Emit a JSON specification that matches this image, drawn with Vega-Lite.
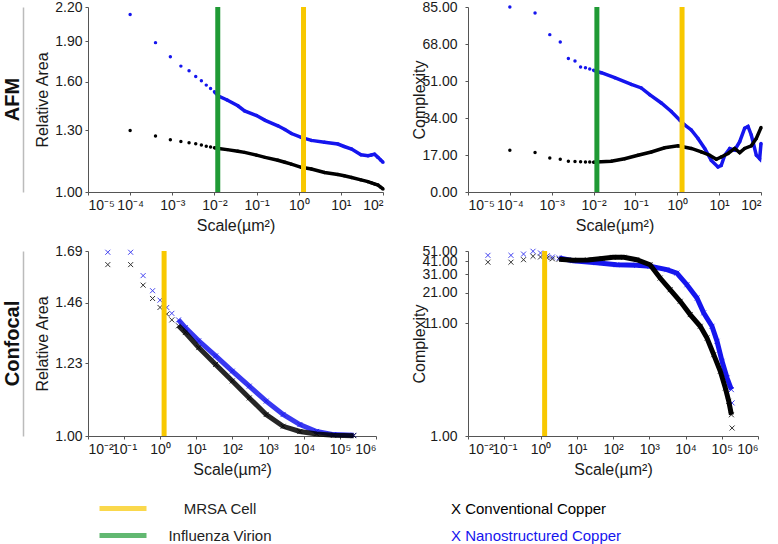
{
  "$schema": "https://vega.github.io/schema/vega-lite/v6.json",
  "padding": {"left": 3, "top": 0, "right": 5, "bottom": 0},
  "config": {
    "font": "Liberation Sans",
    "view": {"stroke": null},
    "axis": {
      "labelFont": "Liberation Sans", "titleFont": "Liberation Sans",
      "labelFontSize": 14, "titleFontSize": 16, "titleFontWeight": "normal",
      "labelColor": "#1a1a1a", "titleColor": "#1a1a1a",
      "domainColor": "#555", "tickColor": "#555", "tickSize": 3, "grid": false
    },
    "axisX": {"labelFontSize": 14, "labelPadding": 3, "titlePadding": 5, "labelOverlap": false},
    "axisY": {"labelPadding": 3, "titlePadding": 4},
    "title": {"font": "Liberation Sans", "fontSize": 20, "fontWeight": "bold", "color": "#111"}
  },
  "datasets": {
    "markers": [
      {"name": "Influenza Virion", "s": 0.012},
      {"name": "MRSA Cell", "s": 1.3}
    ],
    "afmArea": [
      {"s": 0.0001, "k": "Nanostructured", "v": 2.13}, {"s": 0.0004, "k": "Nanostructured", "v": 1.89},
      {"s": 0.0009, "k": "Nanostructured", "v": 1.78}, {"s": 0.0016, "k": "Nanostructured", "v": 1.71},
      {"s": 0.0025, "k": "Nanostructured", "v": 1.676}, {"s": 0.0036, "k": "Nanostructured", "v": 1.636},
      {"s": 0.0049, "k": "Nanostructured", "v": 1.606}, {"s": 0.0064, "k": "Nanostructured", "v": 1.577},
      {"s": 0.0081, "k": "Nanostructured", "v": 1.555}, {"s": 0.01, "k": "Nanostructured", "v": 1.533},
      {"s": 0.0125, "k": "Nanostructured", "v": 1.505}, {"s": 0.02, "k": "Nanostructured", "v": 1.48},
      {"s": 0.036, "k": "Nanostructured", "v": 1.444}, {"s": 0.052, "k": "Nanostructured", "v": 1.413},
      {"s": 0.1, "k": "Nanostructured", "v": 1.385}, {"s": 0.16, "k": "Nanostructured", "v": 1.357},
      {"s": 0.32, "k": "Nanostructured", "v": 1.326}, {"s": 0.47, "k": "Nanostructured", "v": 1.305},
      {"s": 0.67, "k": "Nanostructured", "v": 1.283}, {"s": 1.15, "k": "Nanostructured", "v": 1.262},
      {"s": 2, "k": "Nanostructured", "v": 1.246}, {"s": 4.1, "k": "Nanostructured", "v": 1.236},
      {"s": 8.5, "k": "Nanostructured", "v": 1.227}, {"s": 12, "k": "Nanostructured", "v": 1.214},
      {"s": 18, "k": "Nanostructured", "v": 1.201}, {"s": 30, "k": "Nanostructured", "v": 1.172},
      {"s": 44, "k": "Nanostructured", "v": 1.167}, {"s": 53, "k": "Nanostructured", "v": 1.171},
      {"s": 63, "k": "Nanostructured", "v": 1.175}, {"s": 76, "k": "Nanostructured", "v": 1.159},
      {"s": 88, "k": "Nanostructured", "v": 1.146}, {"s": 100, "k": "Nanostructured", "v": 1.135},
      {"s": 0.0001, "k": "Conventional", "v": 1.3}, {"s": 0.0004, "k": "Conventional", "v": 1.27},
      {"s": 0.0009, "k": "Conventional", "v": 1.25}, {"s": 0.0016, "k": "Conventional", "v": 1.24},
      {"s": 0.0025, "k": "Conventional", "v": 1.233}, {"s": 0.0036, "k": "Conventional", "v": 1.228},
      {"s": 0.0049, "k": "Conventional", "v": 1.222}, {"s": 0.0064, "k": "Conventional", "v": 1.215},
      {"s": 0.0081, "k": "Conventional", "v": 1.211}, {"s": 0.01, "k": "Conventional", "v": 1.207},
      {"s": 0.0125, "k": "Conventional", "v": 1.204}, {"s": 0.02, "k": "Conventional", "v": 1.198},
      {"s": 0.036, "k": "Conventional", "v": 1.19}, {"s": 0.052, "k": "Conventional", "v": 1.184},
      {"s": 0.1, "k": "Conventional", "v": 1.17}, {"s": 0.16, "k": "Conventional", "v": 1.159},
      {"s": 0.32, "k": "Conventional", "v": 1.145}, {"s": 0.47, "k": "Conventional", "v": 1.135},
      {"s": 0.67, "k": "Conventional", "v": 1.126}, {"s": 1.15, "k": "Conventional", "v": 1.111},
      {"s": 2, "k": "Conventional", "v": 1.103}, {"s": 4.1, "k": "Conventional", "v": 1.087},
      {"s": 8.5, "k": "Conventional", "v": 1.077}, {"s": 12, "k": "Conventional", "v": 1.072},
      {"s": 18, "k": "Conventional", "v": 1.064}, {"s": 30, "k": "Conventional", "v": 1.053},
      {"s": 44, "k": "Conventional", "v": 1.045}, {"s": 53, "k": "Conventional", "v": 1.04},
      {"s": 63, "k": "Conventional", "v": 1.035}, {"s": 76, "k": "Conventional", "v": 1.03},
      {"s": 88, "k": "Conventional", "v": 1.021}, {"s": 100, "k": "Conventional", "v": 1.013}
    ],
    "afmCx": [
      {"s": 0.0001, "k": "Nanostructured", "v": 85}, {"s": 0.0004, "k": "Nanostructured", "v": 82.2},
      {"s": 0.0009, "k": "Nanostructured", "v": 72.3}, {"s": 0.0016, "k": "Nanostructured", "v": 68.9},
      {"s": 0.0025, "k": "Nanostructured", "v": 61.3}, {"s": 0.0036, "k": "Nanostructured", "v": 60.2},
      {"s": 0.0049, "k": "Nanostructured", "v": 57.4}, {"s": 0.0064, "k": "Nanostructured", "v": 57.1},
      {"s": 0.0081, "k": "Nanostructured", "v": 56.5}, {"s": 0.01, "k": "Nanostructured", "v": 55.9},
      {"s": 0.0125, "k": "Nanostructured", "v": 55.3}, {"s": 0.0153, "k": "Nanostructured", "v": 54.8},
      {"s": 0.032, "k": "Nanostructured", "v": 52.5}, {"s": 0.08, "k": "Nanostructured", "v": 49.4},
      {"s": 0.138, "k": "Nanostructured", "v": 47.8}, {"s": 0.219, "k": "Nanostructured", "v": 44.7},
      {"s": 0.415, "k": "Nanostructured", "v": 40.9}, {"s": 0.72, "k": "Nanostructured", "v": 37},
      {"s": 1.14, "k": "Nanostructured", "v": 33.1}, {"s": 1.5, "k": "Nanostructured", "v": 30.8},
      {"s": 2.16, "k": "Nanostructured", "v": 28.5}, {"s": 3.13, "k": "Nanostructured", "v": 24.6},
      {"s": 4.52, "k": "Nanostructured", "v": 20}, {"s": 6.49, "k": "Nanostructured", "v": 14.5},
      {"s": 9.38, "k": "Nanostructured", "v": 11.5}, {"s": 11.2, "k": "Nanostructured", "v": 12.2},
      {"s": 13.6, "k": "Nanostructured", "v": 16.9}, {"s": 17.9, "k": "Nanostructured", "v": 20},
      {"s": 23.5, "k": "Nanostructured", "v": 19.2}, {"s": 31, "k": "Nanostructured", "v": 23.1},
      {"s": 40.7, "k": "Nanostructured", "v": 29.3}, {"s": 48.9, "k": "Nanostructured", "v": 30.1},
      {"s": 58.6, "k": "Nanostructured", "v": 26.2}, {"s": 77.3, "k": "Nanostructured", "v": 16.9},
      {"s": 92.9, "k": "Nanostructured", "v": 15.3}, {"s": 100, "k": "Nanostructured", "v": 22.3},
      {"s": 0.0001, "k": "Conventional", "v": 19.2}, {"s": 0.0004, "k": "Conventional", "v": 18.1},
      {"s": 0.0009, "k": "Conventional", "v": 15.6}, {"s": 0.0016, "k": "Conventional", "v": 15},
      {"s": 0.0025, "k": "Conventional", "v": 14.1}, {"s": 0.0036, "k": "Conventional", "v": 14},
      {"s": 0.0049, "k": "Conventional", "v": 13.9}, {"s": 0.0064, "k": "Conventional", "v": 13.8},
      {"s": 0.0081, "k": "Conventional", "v": 13.8}, {"s": 0.01, "k": "Conventional", "v": 13.7},
      {"s": 0.0116, "k": "Conventional", "v": 13.8}, {"s": 0.0265, "k": "Conventional", "v": 14.1},
      {"s": 0.0553, "k": "Conventional", "v": 15.3}, {"s": 0.115, "k": "Conventional", "v": 16.9},
      {"s": 0.239, "k": "Conventional", "v": 18.4}, {"s": 0.5, "k": "Conventional", "v": 20.3},
      {"s": 1.04, "k": "Conventional", "v": 21.2}, {"s": 2.16, "k": "Conventional", "v": 20},
      {"s": 3.75, "k": "Conventional", "v": 18.4}, {"s": 5.94, "k": "Conventional", "v": 16.9},
      {"s": 8.55, "k": "Conventional", "v": 15}, {"s": 11.2, "k": "Conventional", "v": 16.1},
      {"s": 16.3, "k": "Conventional", "v": 17.7}, {"s": 23.5, "k": "Conventional", "v": 20},
      {"s": 31, "k": "Conventional", "v": 18.1}, {"s": 40.7, "k": "Conventional", "v": 20},
      {"s": 58.6, "k": "Conventional", "v": 21.2}, {"s": 77.3, "k": "Conventional", "v": 24.6},
      {"s": 100, "k": "Conventional", "v": 29.6}
    ],
    "confArea": [
      {"s": 0.0355, "k": "Nanostructured", "v": 1.684}, {"s": 0.153, "k": "Nanostructured", "v": 1.684},
      {"s": 0.34, "k": "Nanostructured", "v": 1.576}, {"s": 0.622, "k": "Nanostructured", "v": 1.51},
      {"s": 1, "k": "Nanostructured", "v": 1.47}, {"s": 1.54, "k": "Nanostructured", "v": 1.44},
      {"s": 2.13, "k": "Nanostructured", "v": 1.416}, {"s": 3.27, "k": "Nanostructured", "v": 1.39},
      {"s": 5.04, "k": "Nanostructured", "v": 1.36}, {"s": 11.9, "k": "Nanostructured", "v": 1.31},
      {"s": 35.1, "k": "Nanostructured", "v": 1.255}, {"s": 102, "k": "Nanostructured", "v": 1.202},
      {"s": 302, "k": "Nanostructured", "v": 1.152}, {"s": 891, "k": "Nanostructured", "v": 1.104},
      {"s": 2630, "k": "Nanostructured", "v": 1.063}, {"s": 7670, "k": "Nanostructured", "v": 1.033},
      {"s": 22400, "k": "Nanostructured", "v": 1.013}, {"s": 66100, "k": "Nanostructured", "v": 1.004},
      {"s": 240000, "k": "Nanostructured", "v": 1.002},
      {"s": 0.0355, "k": "Conventional", "v": 1.626}, {"s": 0.153, "k": "Conventional", "v": 1.626},
      {"s": 0.34, "k": "Conventional", "v": 1.534}, {"s": 0.622, "k": "Conventional", "v": 1.477},
      {"s": 1, "k": "Conventional", "v": 1.44}, {"s": 1.54, "k": "Conventional", "v": 1.413},
      {"s": 2.13, "k": "Conventional", "v": 1.39}, {"s": 3.27, "k": "Conventional", "v": 1.367},
      {"s": 5.04, "k": "Conventional", "v": 1.341}, {"s": 11.9, "k": "Conventional", "v": 1.285},
      {"s": 35.1, "k": "Conventional", "v": 1.225}, {"s": 102, "k": "Conventional", "v": 1.169},
      {"s": 302, "k": "Conventional", "v": 1.114}, {"s": 891, "k": "Conventional", "v": 1.063},
      {"s": 2630, "k": "Conventional", "v": 1.028}, {"s": 7670, "k": "Conventional", "v": 1.013},
      {"s": 22400, "k": "Conventional", "v": 1.006}, {"s": 66100, "k": "Conventional", "v": 1.002},
      {"s": 240000, "k": "Conventional", "v": 1.001}
    ],
    "confCx": [
      {"s": 0.0355, "k": "Nanostructured", "v": 46.5}, {"s": 0.153, "k": "Nanostructured", "v": 46.5},
      {"s": 0.34, "k": "Nanostructured", "v": 47.8}, {"s": 0.622, "k": "Nanostructured", "v": 50.7},
      {"s": 1, "k": "Nanostructured", "v": 48.9}, {"s": 1.54, "k": "Nanostructured", "v": 46.1},
      {"s": 2.13, "k": "Nanostructured", "v": 44.9}, {"s": 3.27, "k": "Nanostructured", "v": 44},
      {"s": 7.9, "k": "Nanostructured", "v": 41.5}, {"s": 35, "k": "Nanostructured", "v": 39.8},
      {"s": 126, "k": "Nanostructured", "v": 38.1}, {"s": 451, "k": "Nanostructured", "v": 37.6},
      {"s": 1052, "k": "Nanostructured", "v": 36.9}, {"s": 3055, "k": "Nanostructured", "v": 34.3},
      {"s": 5781, "k": "Nanostructured", "v": 31.9}, {"s": 10940, "k": "Nanostructured", "v": 24.9},
      {"s": 20700, "k": "Nanostructured", "v": 18.8}, {"s": 31700, "k": "Nanostructured", "v": 13.7},
      {"s": 53800, "k": "Nanostructured", "v": 10.3}, {"s": 74100, "k": "Nanostructured", "v": 7.48},
      {"s": 101900, "k": "Nanostructured", "v": 4.89}, {"s": 140300, "k": "Nanostructured", "v": 3.43},
      {"s": 184500, "k": "Nanostructured", "v": 2.68}, {"s": 192800, "k": "Nanostructured", "v": 2.02},
      {"s": 0.0355, "k": "Conventional", "v": 40.2}, {"s": 0.153, "k": "Conventional", "v": 40.2},
      {"s": 0.34, "k": "Conventional", "v": 42.4}, {"s": 0.622, "k": "Conventional", "v": 45.6},
      {"s": 1, "k": "Conventional", "v": 44.9}, {"s": 1.54, "k": "Conventional", "v": 44},
      {"s": 2.13, "k": "Conventional", "v": 43.2}, {"s": 3.27, "k": "Conventional", "v": 42.8},
      {"s": 7.9, "k": "Conventional", "v": 42}, {"s": 20, "k": "Conventional", "v": 42.2},
      {"s": 50, "k": "Conventional", "v": 43.5}, {"s": 100, "k": "Conventional", "v": 44.6},
      {"s": 200, "k": "Conventional", "v": 44.6}, {"s": 451, "k": "Conventional", "v": 42.4},
      {"s": 1052, "k": "Conventional", "v": 38.1}, {"s": 1995, "k": "Conventional", "v": 28.7},
      {"s": 3767, "k": "Conventional", "v": 22.4}, {"s": 7129, "k": "Conventional", "v": 17.5},
      {"s": 13490, "k": "Conventional", "v": 13.2}, {"s": 25530, "k": "Conventional", "v": 10.3},
      {"s": 39170, "k": "Conventional", "v": 8.03}, {"s": 60000, "k": "Conventional", "v": 5.63},
      {"s": 91400, "k": "Conventional", "v": 3.96}, {"s": 125900, "k": "Conventional", "v": 2.77},
      {"s": 156300, "k": "Conventional", "v": 2.09}, {"s": 184500, "k": "Conventional", "v": 1.57},
      {"s": 192800, "k": "Conventional", "v": 1.185}
    ],
    "markerKey": [
      {"item": "MRSA Cell"},
      {"item": "Influenza Virion"}
    ],
    "copperKey": [
      {"k": "Conventional", "label": "X Conventional Copper"},
      {"k": "Nanostructured", "label": "X Nanostructured Copper"}
    ]
  },
  "columns": 2,
  "spacing": {"row": 59, "column": 85},
  "bounds": "flush",
  "concat": [
    {
      "width": 295, "height": 185,
      "title": {"text": "AFM", "orient": "left", "anchor": "middle", "offset": 0},
      "encoding": {
        "x": {"field": "s", "type": "quantitative", "scale": {"type": "log", "domain": [0.00001, 100], "nice": false},
          "axis": {"values": [0.00001, 0.0001, 0.001, 0.01, 0.1, 1, 10, 100], "title": "Scale(µm²)",
            "labelExpr": "'10' + ['⁻⁵','⁻⁴','⁻³','⁻²','⁻¹','⁰','¹','²','³','⁴','⁵','⁶'][round(log(datum.value)/LN10)+5]"}},
        "color": {"field": "k", "type": "nominal", "legend": null,
          "scale": {"domain": ["Conventional", "Nanostructured", "MRSA Cell", "Influenza Virion"], "range": ["#000000", "#1515ee", "#f8c800", "#1f9a35"]}}
      },
      "layer": [
        {
          "data": {"name": "afmArea"},
          "encoding": {
            "y": {"field": "v", "type": "quantitative", "scale": {"type": "log", "domain": [1, 2.2], "nice": false},
              "axis": {"values": [1, 1.3, 1.6, 1.9, 2.2], "format": ".2f", "title": "Relative Area"}}
          },
          "layer": [
            {"mark": {"type": "point", "filled": true, "size": 12, "opacity": 1}},
            {"transform": [{"filter": "datum.s >= 0.01"}], "mark": {"type": "line", "strokeWidth": 3.5}}
          ]
        },
        {
          "data": {"name": "afmArea"},
          "mark": {"type": "point", "opacity": 0},
          "encoding": {
            "y": {"field": "v", "type": "quantitative",
              "axis": {"orient": "left", "offset": 65, "labels": false, "ticks": false, "title": null, "domainColor": "#bbbbbb", "domainWidth": 1.5}}
          }
        },
        {
          "data": {"name": "markers"},
          "mark": {"type": "rule", "strokeWidth": 5},
          "encoding": {"color": {"field": "name", "type": "nominal", "legend": null}}
        }
      ],
      "resolve": {"axis": {"y": "independent"}}
    },
    {
      "width": 293, "height": 185,
      "encoding": {
        "x": {"field": "s", "type": "quantitative", "scale": {"type": "log", "domain": [0.00001, 100], "nice": false},
          "axis": {"values": [0.00001, 0.0001, 0.001, 0.01, 0.1, 1, 10, 100], "title": "Scale(µm²)",
            "labelExpr": "'10' + ['⁻⁵','⁻⁴','⁻³','⁻²','⁻¹','⁰','¹','²','³','⁴','⁵','⁶'][round(log(datum.value)/LN10)+5]"}},
        "color": {"field": "k", "type": "nominal", "legend": null,
          "scale": {"domain": ["Conventional", "Nanostructured", "MRSA Cell", "Influenza Virion"], "range": ["#000000", "#1515ee", "#f8c800", "#1f9a35"]}}
      },
      "layer": [
        {
          "data": {"name": "afmCx"},
          "encoding": {
            "y": {"field": "v", "type": "quantitative", "scale": {"domain": [0, 85], "nice": false},
              "axis": {"values": [0, 17, 34, 51, 68, 85], "format": ".2f", "title": "Complexity", "titlePadding": -6, "labelPadding": 8}}
          },
          "layer": [
            {"mark": {"type": "point", "filled": true, "size": 12, "opacity": 1}},
            {"transform": [{"filter": "datum.s >= 0.01"}], "mark": {"type": "line", "strokeWidth": 3.5}}
          ]
        },
        {
          "data": {"name": "markers"},
          "mark": {"type": "rule", "strokeWidth": 5},
          "encoding": {"color": {"field": "name", "type": "nominal", "legend": null}}
        }
      ]
    },
    {
      "width": 288, "height": 185,
      "title": {"text": "Confocal", "orient": "left", "anchor": "middle", "offset": 0},
      "encoding": {
        "x": {"field": "s", "type": "quantitative", "scale": {"type": "log", "domain": [0.01, 1000000], "nice": false},
          "axis": {"values": [0.01, 0.1, 1, 10, 100, 1000, 10000, 100000, 1000000], "title": "Scale(µm²)",
            "labelExpr": "'10' + ['⁻⁵','⁻⁴','⁻³','⁻²','⁻¹','⁰','¹','²','³','⁴','⁵','⁶'][round(log(datum.value)/LN10)+5]"}},
        "color": {"field": "k", "type": "nominal", "legend": null,
          "scale": {"domain": ["Conventional", "Nanostructured", "MRSA Cell", "Influenza Virion"], "range": ["#000000", "#1515ee", "#f8c800", "#1f9a35"]}}
      },
      "layer": [
        {
          "data": {"name": "confArea"},
          "encoding": {
            "y": {"field": "v", "type": "quantitative", "scale": {"type": "log", "domain": [1, 1.69], "nice": false},
              "axis": {"values": [1, 1.23, 1.46, 1.69], "format": ".2f", "title": "Relative Area"}}
          },
          "layer": [
            {"mark": {"type": "point", "shape": "M-1,-1L1,1M-1,1L1,-1", "filled": false, "size": 25, "strokeWidth": 1, "opacity": 0.8}},
            {"transform": [{"filter": "datum.s >= 3"}], "mark": {"type": "line", "strokeWidth": 5, "opacity": 0.85}}
          ]
        },
        {
          "data": {"name": "confArea"},
          "mark": {"type": "point", "opacity": 0},
          "encoding": {
            "y": {"field": "v", "type": "quantitative",
              "axis": {"orient": "left", "offset": 65, "labels": false, "ticks": false, "title": null, "domainColor": "#bbbbbb", "domainWidth": 1.5}}
          }
        },
        {
          "data": {"name": "markers"},
          "transform": [{"filter": "datum.name == 'MRSA Cell'"}],
          "mark": {"type": "rule", "strokeWidth": 5},
          "encoding": {"color": {"field": "name", "type": "nominal", "legend": null}}
        }
      ],
      "resolve": {"axis": {"y": "independent"}}
    },
    {
      "width": 290, "height": 185,
      "encoding": {
        "x": {"field": "s", "type": "quantitative", "scale": {"type": "log", "domain": [0.01, 1000000], "nice": false},
          "axis": {"values": [0.01, 0.1, 1, 10, 100, 1000, 10000, 100000, 1000000], "title": "Scale(µm²)",
            "labelExpr": "'10' + ['⁻⁵','⁻⁴','⁻³','⁻²','⁻¹','⁰','¹','²','³','⁴','⁵','⁶'][round(log(datum.value)/LN10)+5]"}},
        "color": {"field": "k", "type": "nominal", "legend": null,
          "scale": {"domain": ["Conventional", "Nanostructured", "MRSA Cell", "Influenza Virion"], "range": ["#000000", "#1515ee", "#f8c800", "#1f9a35"]}}
      },
      "layer": [
        {
          "data": {"name": "confCx"},
          "encoding": {
            "y": {"field": "v", "type": "quantitative", "scale": {"type": "log", "domain": [1, 51], "nice": false},
              "axis": {"values": [1, 11, 21, 31, 41, 51], "format": ".2f", "title": "Complexity", "titlePadding": -6, "labelPadding": 8, "labelOverlap": false}}
          },
          "layer": [
            {"mark": {"type": "point", "shape": "M-1,-1L1,1M-1,1L1,-1", "filled": false, "size": 25, "strokeWidth": 1, "opacity": 0.8}},
            {"transform": [{"filter": "datum.s >= 3 && datum.s < 190000"}], "mark": {"type": "line", "strokeWidth": 5}}
          ]
        },
        {
          "data": {"name": "markers"},
          "transform": [{"filter": "datum.name == 'MRSA Cell'"}],
          "mark": {"type": "rule", "strokeWidth": 5},
          "encoding": {"color": {"field": "name", "type": "nominal", "legend": null}}
        }
      ]
    },
    {
      "width": 167, "height": 54,
      "data": {"name": "markerKey"},
      "encoding": {
        "y": {"field": "item", "type": "nominal", "axis": null,
          "scale": {"type": "point", "domain": ["MRSA Cell", "Influenza Virion"], "padding": 0.5}}
      },
      "layer": [
        {
          "mark": {"type": "tick", "orient": "horizontal", "size": 47, "thickness": 5},
          "encoding": {
            "x": {"datum": "bar", "type": "nominal", "axis": null, "scale": {"type": "point", "domain": ["bar", "text"], "padding": 0.361}},
            "color": {"field": "item", "type": "nominal", "legend": null,
              "scale": {"domain": ["Conventional", "Nanostructured", "MRSA Cell", "Influenza Virion"], "range": ["#000000", "#1515ee", "#f8c800", "#1f9a35"]}}
          }
        },
        {
          "mark": {"type": "text", "fontSize": 15, "align": "center", "color": "#222"},
          "encoding": {
            "x": {"datum": "text", "type": "nominal"},
            "text": {"field": "item"}
          }
        }
      ]
    },
    {
      "width": 200, "height": 54,
      "data": {"name": "copperKey"},
      "mark": {"type": "text", "fontSize": 15, "align": "left", "dx": -17},
      "encoding": {
        "x": {"datum": "t", "type": "nominal", "axis": null, "scale": {"type": "point", "padding": 0, "align": 0}},
        "y": {"field": "k", "type": "nominal", "axis": null,
          "scale": {"type": "point", "domain": ["Conventional", "Nanostructured"], "padding": 0.5}},
        "text": {"field": "label"},
        "color": {"field": "k", "type": "nominal", "legend": null,
          "scale": {"domain": ["Conventional", "Nanostructured", "MRSA Cell", "Influenza Virion"], "range": ["#000000", "#1515ee", "#f8c800", "#1f9a35"]}}
      }
    }
  ]
}
